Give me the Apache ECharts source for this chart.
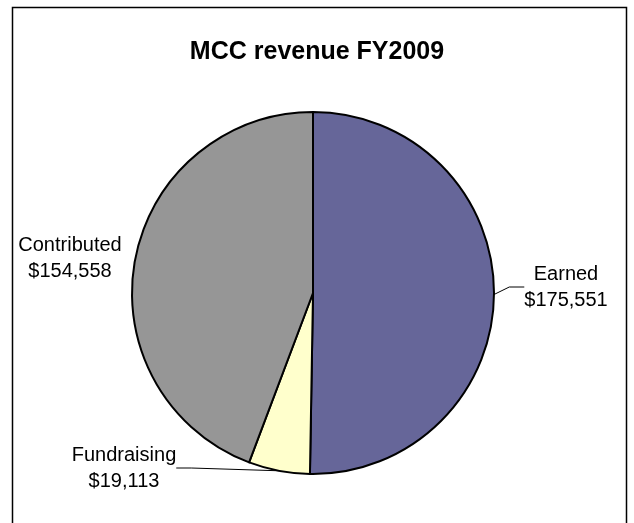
<!DOCTYPE html>
<html>
<head>
<meta charset="utf-8">
<script src="https://cdn.jsdelivr.net/npm/echarts@6/dist/echarts.min.js"></script>
<style>
html,body{margin:0;padding:0;background:#fff;}
#chart{width:634px;height:523px;}
</style>
</head>
<body>
<div id="chart"></div>
<script>
const title = 'MCC revenue FY2009';
const categories = ['Earned', 'Fundraising', 'Contributed'];
const values = [175551, 19113, 154558];
const colors = ['#666699', '#FFFFCC', '#969696'];

// label anchor positions (layout only)
const labelPos = [
  {x: 566, y: 287, line: true},
  {x: 124, y: 468, line: true},
  {x: 70, y: 258, line: false}
];

function fmt(v){ return '$' + v.toLocaleString('en-US'); }

const chart = echarts.init(document.getElementById('chart'));
chart.setOption({
  animation: false,
  backgroundColor: '#fff',
  title: {
    text: title,
    left: 'center',
    top: 35,
    textStyle: {fontFamily: 'Liberation Sans, Arial', fontSize: 25, fontWeight: 'bold', color: '#000'}
  },
  graphic: [{
    type: 'rect',
    shape: {x: 12.5, y: 7.5, width: 614, height: 540},
    style: {fill: 'none', stroke: '#000', lineWidth: 1.5},
    silent: true
  }],
  series: [{
    type: 'pie',
    center: [313, 293],
    radius: 181,
    startAngle: 90,
    clockwise: true,
    silent: true,
    itemStyle: {borderColor: '#000', borderWidth: 2},
    label: {
      show: true,
      position: 'outside',
      overflow: 'none',
      formatter: p => p.name + '\n' + fmt(p.value),
      fontFamily: 'Liberation Sans, Arial',
      fontSize: 20,
      lineHeight: 26,
      color: '#000',
      align: 'center'
    },
    labelLine: {show: true, length: 20, length2: 15, lineStyle: {color: '#000', width: 1}},
    labelLayout: function (p) {
      const lp = labelPos[p.dataIndex];
      return {x: lp.x, y: lp.y, align: 'center', verticalAlign: 'middle'};
    },
    data: categories.map((c, i) => ({
      name: c,
      value: values[i],
      itemStyle: {color: colors[i]},
      labelLine: {show: labelPos[i].line}
    }))
  }]
});
</script>
</body>
</html>
